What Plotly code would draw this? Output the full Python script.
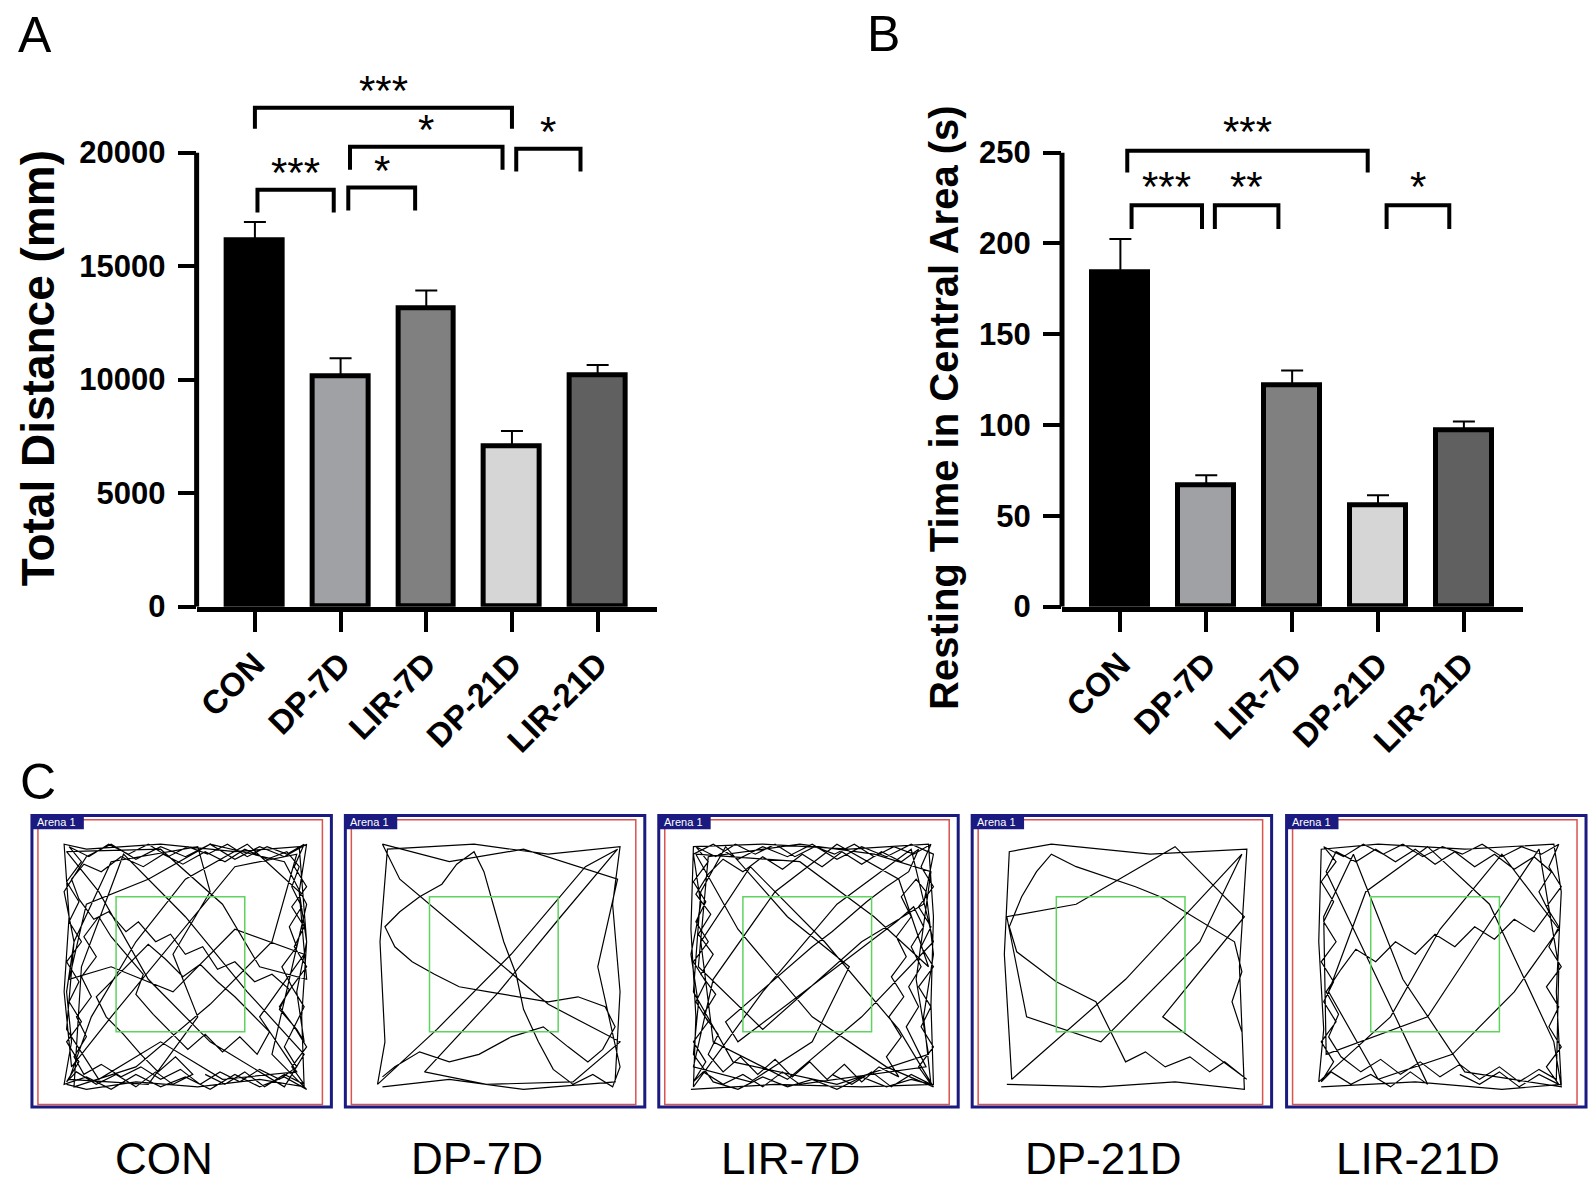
import plotly.graph_objects as go

groups = ["CON", "DP-7D", "LIR-7D", "DP-21D", "LIR-21D"]
bar_colors = ["#000000", "#a0a1a5", "#808080", "#d6d6d6", "#606060"]

distance_mean = [16150, 10150, 13140, 7050, 10200]
distance_sem = [790, 790, 790, 690, 440]
rest_mean = [184, 67, 122, 56, 97]
rest_sem = [18.5, 5.3, 8.0, 5.3, 5.0]

distance_ticks = [0, 5000, 10000, 15000, 20000]
rest_ticks = [0, 50, 100, 150, 200, 250]

# significance brackets: left pos, right pos, top, leg end, label
distance_brackets = [
    (0.0, 3.0, 21980, 21050, "***"),
    (0.03, 0.92, 18370, 17360, "***"),
    (1.09, 1.87, 18460, 17450, "*"),
    (1.11, 2.89, 20260, 19250, "*"),
    (3.05, 3.80, 20170, 19170, "*"),
]
rest_brackets = [
    (0.08, 2.88, 251, 239, "***"),
    (0.13, 0.95, 221, 208, "***"),
    (1.10, 1.84, 221, 208, "**"),
    (3.10, 3.83, 221, 208, "*"),
]

# open field tracks (arena units 0-100), traced by eye
con_x = [2, 10, 30, 55, 80, 98, 97, 99, 96, 70, 40, 10, 1, 3, 1, 4, 20, 45, 70, 95, 85, 60, 30, 5,
         8, 25, 50, 75, 98, 90, 60, 35, 15, 2, 40, 65, 80, 99, 96, 75, 50, 30, 12, 3, 35, 55, 45, 60,
         55, 20, 5, 2, 15, 40, 65, 95, 80, 98, 70, 45, 20, 3, 10, 35, 60, 90, 99, 85, 99,
         90, 80, 70, 60, 50, 40, 30, 20, 10, 1, 4, 2, 5, 1, 10, 20, 30, 40, 50, 60, 70, 80, 90, 99,
         96, 99, 95, 98,
         95, 88, 92, 85, 78, 70, 63, 57, 50, 44, 38, 31, 26, 19, 13, 7, 4, 9, 16, 24,
         33, 41, 49, 58, 66, 74, 83, 91, 96, 93, 97, 92, 95, 89, 93, 88, 94, 90, 95, 88,
         80, 72, 64, 56, 48, 40, 32, 24, 16, 9, 5, 10, 6, 12, 8, 14, 9, 15, 20, 26,
         33, 30, 37, 44, 51, 58, 65, 72, 79, 84, 77, 70, 63, 56, 49, 42, 35, 28, 21, 14,
         18, 25, 32, 39, 46, 53]
con_y = [3, 1, 4, 2, 5, 2, 30, 60, 98, 96, 99, 97, 99, 70, 40, 10, 30, 60, 90, 95, 60, 35, 10, 2,
         50, 95, 70, 40, 15, 2, 20, 45, 80, 96, 97, 75, 50, 45, 80, 99, 85, 60, 30, 5, 3, 30, 55, 80,
         98, 92, 60, 25, 5, 20, 5, 8, 30, 55, 65, 40, 50, 45, 75, 85, 99, 92, 75, 15, 1,
         6, 2, 7, 1, 6, 2, 7, 1, 6, 3, 20, 40, 60, 80, 94, 99, 93, 98, 94, 99, 93, 98, 94, 99,
         80, 60, 40, 20,
         25, 33, 41, 47, 44, 52, 49, 58, 55, 63, 60, 68, 64, 72, 69, 77, 85, 91, 88, 94,
         90, 95, 91, 96, 92, 97, 93, 96, 90, 82, 74, 66, 58, 50, 42, 34, 26, 18, 10, 5,
         9, 4, 8, 3, 9, 5, 10, 6, 11, 7, 14, 22, 30, 38, 46, 54, 62, 70, 62, 55,
         47, 39, 31, 24, 17, 23, 16, 22, 15, 24, 31, 38, 44, 51, 46, 53, 59, 52, 45, 38,
         30, 23, 15, 8, 14, 7]
dp7_x = [3, 30, 60, 97, 99, 96, 99, 70, 40, 5, 2, 4, 1, 25, 55, 85, 98, 75, 50, 20, 45, 80, 99, 70,
         40, 10, 3, 30, 60, 98, 90, 99, 96,
         88, 80, 72, 66, 60, 57, 52, 48, 44, 40, 33, 27, 18, 10, 4, 8, 15, 24, 34, 46,
         58, 70, 82, 93, 97, 92, 86, 78, 68, 55, 42, 30, 18, 8, 3]
dp7_y = [2, 5, 1, 4, 40, 75, 98, 95, 99, 97, 60, 20, 3, 25, 55, 90, 97, 70, 40, 8, 3, 4, 20, 35,
         60, 85, 99, 92, 97, 85, 50, 10, 2,
         7, 3, 9, 20, 33, 47, 60, 74, 88, 96, 91, 83, 78, 72, 66, 58, 52, 47, 42, 40,
         38, 36, 38, 34, 26, 17, 12, 18, 26, 22, 15, 12, 16, 10, 6]
lir7_x = [1, 35, 70, 99, 98, 99, 97, 65, 30, 2, 1, 3, 2, 30, 60, 90, 99, 70, 40, 10, 5, 25, 55, 85,
          99, 80, 50, 20, 3, 45, 75, 97, 85, 60, 35, 10, 2, 25, 50, 65, 40, 15, 5, 2, 18, 60, 97, 92,
          98, 75, 45, 8, 4, 30, 70, 95, 99,
          90, 80, 70, 60, 50, 40, 30, 20, 10, 2, 5, 1, 4, 2, 10, 20, 30, 40, 50, 60, 70, 80, 90, 98,
          95, 99, 96,
          92, 86, 90, 84, 88, 82, 87, 81, 86, 80, 85, 77, 70, 63, 56, 49, 42, 35, 28, 21,
          14, 8, 12, 6, 11, 5, 10, 4, 9, 3, 8, 14, 22, 30, 38, 46, 54, 62, 70, 78,
          86, 93, 89, 80, 72, 65, 58, 50, 43, 36, 29, 22, 15, 20, 28, 36, 44, 52, 60, 68,
          76, 84, 91, 95, 90, 94, 89, 93, 88, 92, 96]
lir7_y = [1, 3, 2, 3, 35, 70, 99, 97, 99, 98, 65, 30, 2, 40, 75, 97, 60, 30, 5, 20, 60, 90, 60, 25,
          2, 10, 30, 65, 95, 92, 70, 50, 85, 99, 80, 45, 10, 4, 20, 50, 70, 98, 80, 40, 12, 3, 15, 45,
          88, 95, 99, 94, 50, 25, 60, 75, 95,
          99, 94, 98, 93, 99, 94, 98, 93, 99, 95, 75, 55, 35, 15, 4, 1, 6, 2, 5, 1, 6, 2, 5, 3,
          30, 55, 80,
          85, 78, 70, 62, 54, 46, 38, 30, 22, 14, 6, 10, 4, 11, 5, 12, 6, 13, 7, 14,
          8, 15, 23, 31, 39, 47, 55, 63, 71, 79, 87, 93, 88, 94, 89, 95, 90, 96, 91, 96,
          92, 97, 88, 82, 76, 70, 64, 58, 52, 46, 40, 34, 28, 20, 26, 32, 38, 44, 50, 56,
          62, 68, 74, 66, 58, 50, 42, 34, 26, 18, 10]
dp21_x = [2, 40, 70, 98, 96, 99, 60, 20, 3, 1, 4, 50, 97, 80, 40, 10, 2, 30, 70, 98, 65, 99,
          90, 84, 76, 66, 58, 50, 44, 38, 30, 22, 14, 6, 3, 8, 14, 20, 30, 42, 54, 64,
          74, 84, 94, 97, 93, 97]
dp21_y = [3, 2, 4, 1, 50, 97, 95, 99, 96, 55, 5, 45, 95, 60, 20, 30, 70, 75, 98, 70, 30, 5,
          12, 8, 14, 10, 16, 12, 24, 36, 40, 44, 50, 56, 66, 78, 88, 95, 90, 86, 82, 78,
          72, 66, 60, 48, 36, 24]
lir21_x = [2, 40, 75, 99, 97, 99, 96, 60, 25, 2, 1, 3, 1, 30, 50, 75, 98, 80, 55, 25, 5, 20, 45, 70,
           96, 99, 60, 35, 15, 3, 4, 45, 65, 90, 98, 97,
           90, 82, 74, 66, 58, 50, 42, 34, 26, 18, 10, 5, 9, 4, 10, 16, 24, 32, 40, 48,
           56, 64, 72, 80, 88, 94, 90, 95, 88, 80, 72, 64, 56, 48, 40, 32, 24, 16, 8, 4]
lir21_y = [2, 4, 1, 3, 40, 80, 99, 97, 99, 97, 60, 25, 4, 30, 65, 95, 65, 40, 15, 5, 40, 80, 98, 75,
           20, 2, 8, 45, 95, 70, 15, 30, 60, 97, 50, 5,
           9, 4, 10, 5, 11, 6, 12, 7, 13, 8, 14, 22, 31, 40, 49, 57, 52, 60, 55, 63,
           58, 66, 61, 69, 64, 72, 80, 88, 94, 89, 95, 90, 96, 91, 97, 92, 97, 92, 96, 88]
# wall-hugging lap seen in the active groups
wall_x = [45, 38, 30, 22, 14, 6, 2, 7, 2, 8, 3, 7, 2, 8, 3, 7, 2, 8, 3,
          11, 19, 27, 35, 43, 51, 59, 67, 75, 83, 91, 98, 94, 99, 93, 98, 94, 99, 93, 98, 94, 99, 93, 98,
          90, 82, 74, 66, 58]
wall_y = [3, 8, 2, 7, 3, 8, 4, 12, 20, 28, 36, 44, 52, 60, 68, 76, 84, 92, 98,
          94, 99, 95, 99, 94, 98, 95, 99, 94, 98, 95, 99, 90, 82, 74, 66, 58, 50, 42, 34, 26, 18, 10, 3,
          7, 2, 8, 3, 7]
tracks = [(con_x + wall_x, con_y + wall_y), (dp7_x, dp7_y), (lir7_x + wall_x, lir7_y + wall_y),
          (dp21_x, dp21_y), (lir21_x + wall_x, lir21_y + wall_y)]
center_zone = (22, 74, 24, 78)

W, H = 1595, 1183
FONT = "Liberation Sans, Arial, sans-serif"


def fx(p):
    return p / W


def fy(p):
    return 1 - p / H


fig = go.Figure()

panels = [
    dict(mean=distance_mean, sem=distance_sem, ticks=distance_ticks, brackets=distance_brackets,
         left=194, right=655, zero=616, top_tick=155, top=50, xa="x", ya="y",
         title="Total Distance (mm)", title_x=35, title_y=374, title_size=46, shift=17),
    dict(mean=rest_mean, sem=rest_sem, ticks=rest_ticks, brackets=rest_brackets,
         left=1061, right=1523, zero=616, top_tick=155, top=50, xa="x2", ya="y2",
         title="Resting Time in Central Area (s)", title_x=942, title_y=414, title_size=40, shift=19),
]

shapes = []
annotations = []

for k, p in enumerate(panels):
    fig.add_trace(go.Bar(
        x=list(range(len(groups))), y=p["mean"], width=0.65,
        marker=dict(color=bar_colors, line=dict(color="black", width=5)),
        error_y=dict(type="data", symmetric=False, array=p["sem"], arrayminus=[0] * 5,
                     color="black", thickness=2, width=11),
        xaxis=p["xa"], yaxis=p["ya"], showlegend=False, hoverinfo="skip"))
    tick_max = p["ticks"][-1]
    ymax = tick_max * (p["zero"] - p["top"]) / (p["zero"] - p["top_tick"])
    sfx = "" if k == 0 else "2"
    fig.update_layout(**{
        "xaxis" + sfx: dict(domain=[fx(p["left"]), fx(p["right"])], range=[-0.68, 4.69],
                            anchor="y" + sfx, showline=True, linewidth=5, linecolor="black",
                            ticks="outside", ticklen=20, tickwidth=4, tickcolor="black",
                            tickvals=list(range(len(groups))), ticktext=groups, tickangle=-45,
                            tickfont=dict(family=FONT, size=33, color="black", weight="bold"),
                            showgrid=False, zeroline=False, fixedrange=True),
        "yaxis" + sfx: dict(domain=[fy(p["zero"]), fy(p["top"])], range=[0, ymax],
                            anchor="x" + sfx, showline=False, ticks="outside", ticklen=18,
                            tickwidth=4, tickcolor="black", tickvals=p["ticks"],
                            ticktext=[str(t) for t in p["ticks"]],
                            tickfont=dict(family=FONT, size=31, color="black", weight="bold"),
                            ticklabelstandoff=6, showgrid=False, zeroline=False, fixedrange=True),
    })
    # y axis line stops at the top tick
    shapes.append(dict(type="line", xref=p["xa"] + " domain", x0=0, x1=0, yref=p["ya"],
                       y0=0, y1=tick_max, line=dict(color="black", width=5)))
    for l, r, t, b, lab in p["brackets"]:
        shapes.append(dict(type="path", xref=p["xa"], yref=p["ya"],
                           path=f"M {l},{b} L {l},{t} L {r},{t} L {r},{b}",
                           line=dict(color="black", width=4)))
        annotations.append(dict(x=(l + r) / 2, y=t, xref=p["xa"], yref=p["ya"], text=lab,
                                showarrow=False, yanchor="middle", yshift=p["shift"],
                                font=dict(family=FONT, size=42, color="black")))
    annotations.append(dict(x=fx(p["title_x"]), y=fy(p["title_y"]), xref="paper", yref="paper",
                            text=p["title"], textangle=-90, showarrow=False,
                            xanchor="center", yanchor="middle",
                            font=dict(family=FONT, size=p["title_size"], color="black",
                                      weight="bold")))

# panel letters
for lab, x, y in [("A", 13, 36), ("B", 864, 35), ("C", 15, 794)]:
    annotations.append(dict(x=fx(x), y=fy(y), xref="paper", yref="paper", text=lab,
                            showarrow=False, xanchor="left", yanchor="middle",
                            font=dict(family=FONT, size=50, color="black")))

# panel C arenas
box_lefts = [29, 343, 657, 971, 1286]
box_w, box_top, box_bot = 300, 828, 1124
for i, (g, (tx, ty)) in enumerate(zip(groups, tracks)):
    n = str(i + 3)
    fig.add_trace(go.Scatter(x=tx, y=ty, mode="lines", line=dict(color="black", width=1.2),
                             xaxis="x" + n, yaxis="y" + n, showlegend=False, hoverinfo="skip"))
    bl = box_lefts[i]
    fig.update_layout(**{
        "xaxis" + n: dict(domain=[fx(bl), fx(bl + box_w)], range=[-12, 109], visible=False,
                          anchor="y" + n, fixedrange=True),
        "yaxis" + n: dict(domain=[fy(box_bot), fy(box_top)], range=[-6, 110.5], visible=False,
                          anchor="x" + n, fixedrange=True),
    })
    xd, yd = "x" + n + " domain", "y" + n + " domain"
    shapes.append(dict(type="rect", xref=xd, yref=yd, x0=0.02, x1=0.97, y0=0.008, y1=0.985,
                       line=dict(color="#d9534f", width=1.5)))
    shapes.append(dict(type="rect", xref=xd, yref=yd, x0=0, x1=1, y0=0, y1=1,
                       line=dict(color="#1a1a80", width=3)))
    x0, x1, y0, y1 = center_zone
    shapes.append(dict(type="rect", xref="x" + n, yref="y" + n, x0=x0, x1=x1, y0=y0, y1=y1,
                       line=dict(color="#5fd35f", width=1.5)))
    shapes.append(dict(type="rect", xref="paper", yref="paper", x0=fx(bl), x1=fx(bl + 52),
                       y0=fy(box_top + 14), y1=fy(box_top), fillcolor="#1a1a80",
                       line=dict(width=0)))
    annotations.append(dict(x=fx(bl + 3), y=fy(box_top + 7), xref="paper", yref="paper",
                            text="Arena 1", showarrow=False, xanchor="left", yanchor="middle",
                            font=dict(family=FONT, size=11, color="white")))
    annotations.append(dict(x=fx(bl + box_w / 2 - 18), y=fy(1176), xref="paper", yref="paper",
                            text=g, showarrow=False, xanchor="center", yanchor="middle",
                            font=dict(family=FONT, size=44, color="black")))

fig.update_layout(
    width=W, height=H, margin=dict(l=0, r=0, t=0, b=0),
    paper_bgcolor="white", plot_bgcolor="white",
    shapes=shapes, annotations=annotations, bargap=0,
)

fig.write_html("out.html", config={"displayModeBar": False},
               post_script="document.body.style.margin='0';")
